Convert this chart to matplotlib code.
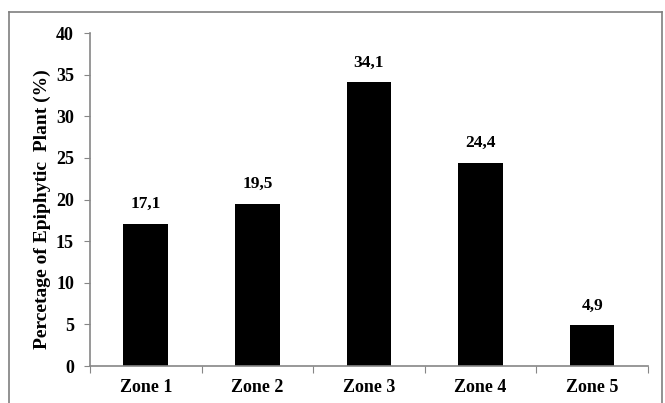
import numpy as np
import matplotlib
matplotlib.use("Agg")
import matplotlib.pyplot as plt
from matplotlib.lines import Line2D

zones = ["Zone 1", "Zone 2", "Zone 3", "Zone 4", "Zone 5"]
values = [17.1, 19.5, 34.1, 24.4, 4.9]
value_labels = ["17,1", "19,5", "34,1", "24,4", "4,9"]
y_ticks = [0, 5, 10, 15, 20, 25, 30, 35, 40]

plt.rcParams['font.family'] = ['Liberation Serif', 'DejaVu Serif']
plt.rcParams['font.weight'] = 'bold'

fig = plt.figure(figsize=(6.65, 4.03), dpi=100)
ax = fig.add_axes([0.1353, 0.0918, 0.8391, 0.8262])

x = np.arange(len(zones))
ax.bar(x, values, 0.4, color='black')

for xi, v, lab in zip(x, values, value_labels):
    ax.text(xi, v + 1.4, lab, ha='center', va='bottom', fontsize=12.5, fontweight='bold')

ax.set_xlim(-0.5, len(zones) - 0.5)
ax.set_ylim(0, 40)
ax.set_yticks(y_ticks)
ax.set_yticklabels([str(t) for t in y_ticks], fontsize=13, fontweight='bold')
# 类别刻度在柱子之间
ax.set_xticks(np.arange(len(zones) + 1) - 0.5)
ax.set_xticklabels([])
ax.set_xticks(x, minor=True)
ax.set_xticklabels(zones, minor=True, fontsize=13, fontweight='bold')
ax.tick_params(axis='x', which='minor', length=0, pad=9)
ax.tick_params(axis='x', which='major', length=5, color='#868686', direction='out')
ax.tick_params(axis='y', length=4.5, color='#868686', direction='out', pad=7)

for s in ['top', 'right']:
    ax.spines[s].set_visible(False)
for s in ['left', 'bottom']:
    ax.spines[s].set_color('#868686')
    ax.spines[s].set_linewidth(1.2)

ax.set_ylabel("Percetage of Epiphytic  Plant (%)", fontsize=14, fontweight='bold')
ax.yaxis.set_label_coords(-0.07, 0.47)

# 外框
W, H = 665.0, 403.0
x0, x1, y0, y1 = 8.5 / W, 661.5 / W, 0.0, 1 - 11.5 / H
for xs, ys in [([x0, x0], [y0, y1]), ([x0, x1], [y1, y1]), ([x1, x1], [y1, y0])]:
    fig.add_artist(Line2D(xs, ys, color='#7f7f7f', lw=1.2, transform=fig.transFigure))

fig.savefig("out.png", dpi=100)
